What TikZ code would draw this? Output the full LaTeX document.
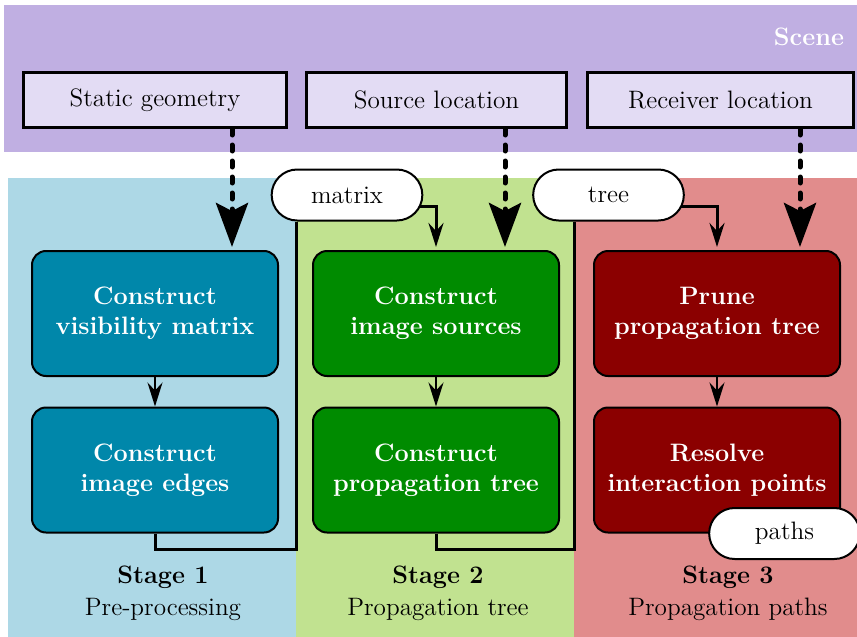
\documentclass[tikz,border=0pt]{standalone}
\usetikzlibrary{arrows.meta,positioning,shapes.misc}
\definecolor{lilac}{RGB}{192,175,226}
\definecolor{lilacpale}{RGB}{227,220,244}
\definecolor{skyblue}{RGB}{173,216,230}
\definecolor{petrol}{RGB}{0,135,170}
\definecolor{grass}{RGB}{193,226,144}
\definecolor{forest}{RGB}{0,139,0}
\definecolor{rose}{RGB}{225,140,140}
\definecolor{blood}{RGB}{139,0,0}
\newcommand{\bodyfont}{\fontsize{12.6}{15}\selectfont}
\tikzset{
  >={Stealth[length=12pt,width=7.5pt,inset=4pt]},
  zone/.style={fill=#1,inner sep=0pt,anchor=north west},
  input/.style={draw,fill=lilacpale,line width=1.5pt,minimum width=131.5pt,
    minimum height=27.5pt,font=\bodyfont},
  proc/.style={draw,fill=#1,text=white,rounded corners=7pt,line width=1pt,
    minimum width=123pt,minimum height=62.5pt,align=center,font=\bodyfont\bfseries},
  proc/.default=petrol,
  pill/.style={draw,fill=white,rounded rectangle,line width=1pt,
    minimum width=82pt,minimum height=25.5pt,font=\bodyfont},
  feed/.style={-{Stealth[length=22pt,width=16pt,inset=4pt]},line width=2.5pt,
    dash pattern=on 3pt off 5pt,line cap=round,shorten >=1.5pt},
  link/.style={line width=1.5pt},
  next/.style={->,line width=1pt},
  caption/.style={align=center,font=\bodyfont},
}
\begin{document}
\begin{tikzpicture}[x=0.5pt,y=-0.5pt]
  \useasboundingbox (0,0) rectangle (857,637);
  % backgrounds
  \node[zone=lilac,minimum width=426.5pt,minimum height=73.5pt] (scene) at (4,5) {};
  \node[zone=skyblue,minimum width=144pt,minimum height=229.5pt] (stage1) at (8,178) {};
  \node[zone=grass,minimum width=139pt,minimum height=229.5pt] (stage2) at (296,178) {};
  \node[zone=rose,minimum width=141.5pt,minimum height=229.5pt] (stage3) at (574,178) {};
  \node[font=\bodyfont\bfseries,text=white,anchor=east] (scenelabel) at (851,37) {Scene};

  % scene inputs
  \node[input,minimum width=131.5pt] (static) at (155,100) {Static geometry};
  \node[input,minimum width=130pt] (source) at (436.5,100) {Source location};
  \node[input,minimum width=133pt] (receiver) at (720.5,100) {Receiver location};

  % stages
  \node[proc=petrol] (visib) at (155,313.5) {Construct\\visibility matrix};
  \node[proc=petrol] (edges) at (155,470) {Construct\\image edges};
  \node[proc=forest] (sources) at (436,313.5) {Construct\\image sources};
  \node[proc=forest] (ptree) at (436,470) {Construct\\propagation tree};
  \node[proc=blood] (prune) at (717,313.5) {Prune\\propagation tree};
  \node[proc=blood] (resolve) at (717,470) {Resolve\\interaction points};

  \draw[next] (visib) -- (edges);
  \draw[next] (sources) -- (ptree);
  \draw[next] (prune) -- (resolve);

  % data between stages
  \node[pill] (matrix) at (347,195) {matrix};
  \node[pill] (tree) at (608.5,195) {tree};
  \node[pill] (paths) at (784.5,533.5) {paths};

  \draw[link] (edges.south) -- ++(0,16) -| (matrix.south -| stage1.east);
  \draw[link,->,shorten >=1.5pt] ([shift={(-2pt,-5.5pt)}]matrix.east) -| (sources.north);
  \draw[link] (ptree.south) -- ++(0,16) -| (tree.south -| stage2.east);
  \draw[link,->,shorten >=1.5pt] ([shift={(-2pt,-5.5pt)}]tree.east) -| (prune.north);

  % scene feeds
  \draw[feed] (static.south -| 232,0) -- (232,0 |- visib.north);
  \draw[feed] (source.south -| 505,0) -- (505,0 |- sources.north);
  \draw[feed] (receiver.south -| 800,0) -- (800,0 |- prune.north);

  % captions
  \node[caption] (cap1) at (163,593) {\textbf{Stage 1}\\[1pt]Pre-processing};
  \node[caption] (cap2) at (438,593) {\textbf{Stage 2}\\[1pt]Propagation tree};
  \node[caption] (cap3) at (728,593) {\textbf{Stage 3}\\[1pt]Propagation paths};
\end{tikzpicture}
\end{document}
